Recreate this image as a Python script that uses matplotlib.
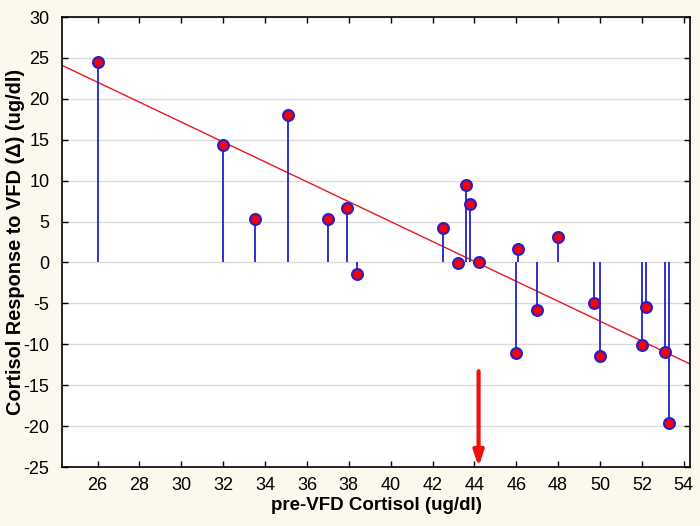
import numpy as np
import matplotlib
matplotlib.use("Agg")
import matplotlib.pyplot as plt

pre_cortisol = [26.0, 32.0, 33.5, 35.1, 37.0, 37.9, 38.4, 42.5, 43.2, 43.6, 43.8,
                44.2, 46.0, 46.1, 47.0, 48.0, 49.7, 50.0, 52.0, 52.2, 53.1, 53.3]
response = [24.5, 14.4, 5.3, 18.0, 5.3, 6.6, -1.4, 4.2, -0.1, 9.5, 7.2,
            0.1, -11.1, 1.7, -5.8, 3.1, -4.9, -11.4, -10.1, -5.5, -10.9, -19.6]

arrow_x = 44.2
arrow_top = -13.3

xticks = list(range(26, 55, 2))
yticks = list(range(-25, 31, 5))

plt.rcParams['font.family'] = ['Liberation Sans Narrow', 'Liberation Sans', 'DejaVu Sans']
plt.rcParams['axes.unicode_minus'] = False

x = np.array(pre_cortisol)
y = np.array(response)

bg = "#FDF8EE"
fig = plt.figure(figsize=(7.0, 5.26), dpi=100, facecolor=bg)
ax = fig.add_axes([62/700, 1-467/526, (690-62)/700, (467-17)/526])
ax.set_facecolor("white")

xlim = (24.3, 54.3)
ax.set_xlim(*xlim)
ax.set_ylim(-25, 30)

for t in yticks:
    ax.axhline(t, color="#DCDCDC", lw=1.0, zorder=0)

slope, intercept = np.polyfit(x, y, 1)
xl = np.array(xlim)
ax.plot(xl, slope*xl + intercept, color="#E8191F", lw=1.0, zorder=2)

ax.vlines(x, 0, y, color="#2222CC", lw=1.3, zorder=3)
ax.scatter(x, y, s=60, facecolor="#FF0000", edgecolor="#2B1FC8", linewidths=1.6, zorder=4)

ax.annotate("", xy=(arrow_x, -25), xytext=(arrow_x, arrow_top),
            arrowprops=dict(arrowstyle="-|>,head_length=0.9,head_width=0.3",
                            color="#F01010", lw=3, shrinkA=0, shrinkB=0), zorder=5)

ax.set_xticks(xticks)
ax.set_yticks(yticks)
ax.tick_params(direction="in", top=True, right=True, labelsize=13, length=4, width=1)
ax.tick_params(axis="x", pad=7)
ax.tick_params(axis="y", pad=9)
for s in ax.spines.values():
    s.set_linewidth(1.2)

xlab = fig.text(376/700, 1-506/526, "pre-VFD Cortisol (ug/dl)", fontsize=12, fontweight="bold",
                ha="center", va="center", family=['Liberation Sans Narrow', 'Liberation Sans', 'DejaVu Sans'])
ylab = fig.text(16/700, 1-242/526, "Cortisol Response to VFD (\u0394) (ug/dl)", fontsize=12,
                fontweight="bold", ha="center", va="center", rotation=90,
                family=['Liberation Sans', 'DejaVu Sans'])

fig.canvas.draw()
r = fig.canvas.get_renderer()
w = xlab.get_window_extent(r).width
xlab.set_fontsize(12 * 210 / w)
h = ylab.get_window_extent(r).height
ylab.set_fontsize(12 * 345 / h)

fig.savefig("out.png", dpi=100, facecolor=bg)
